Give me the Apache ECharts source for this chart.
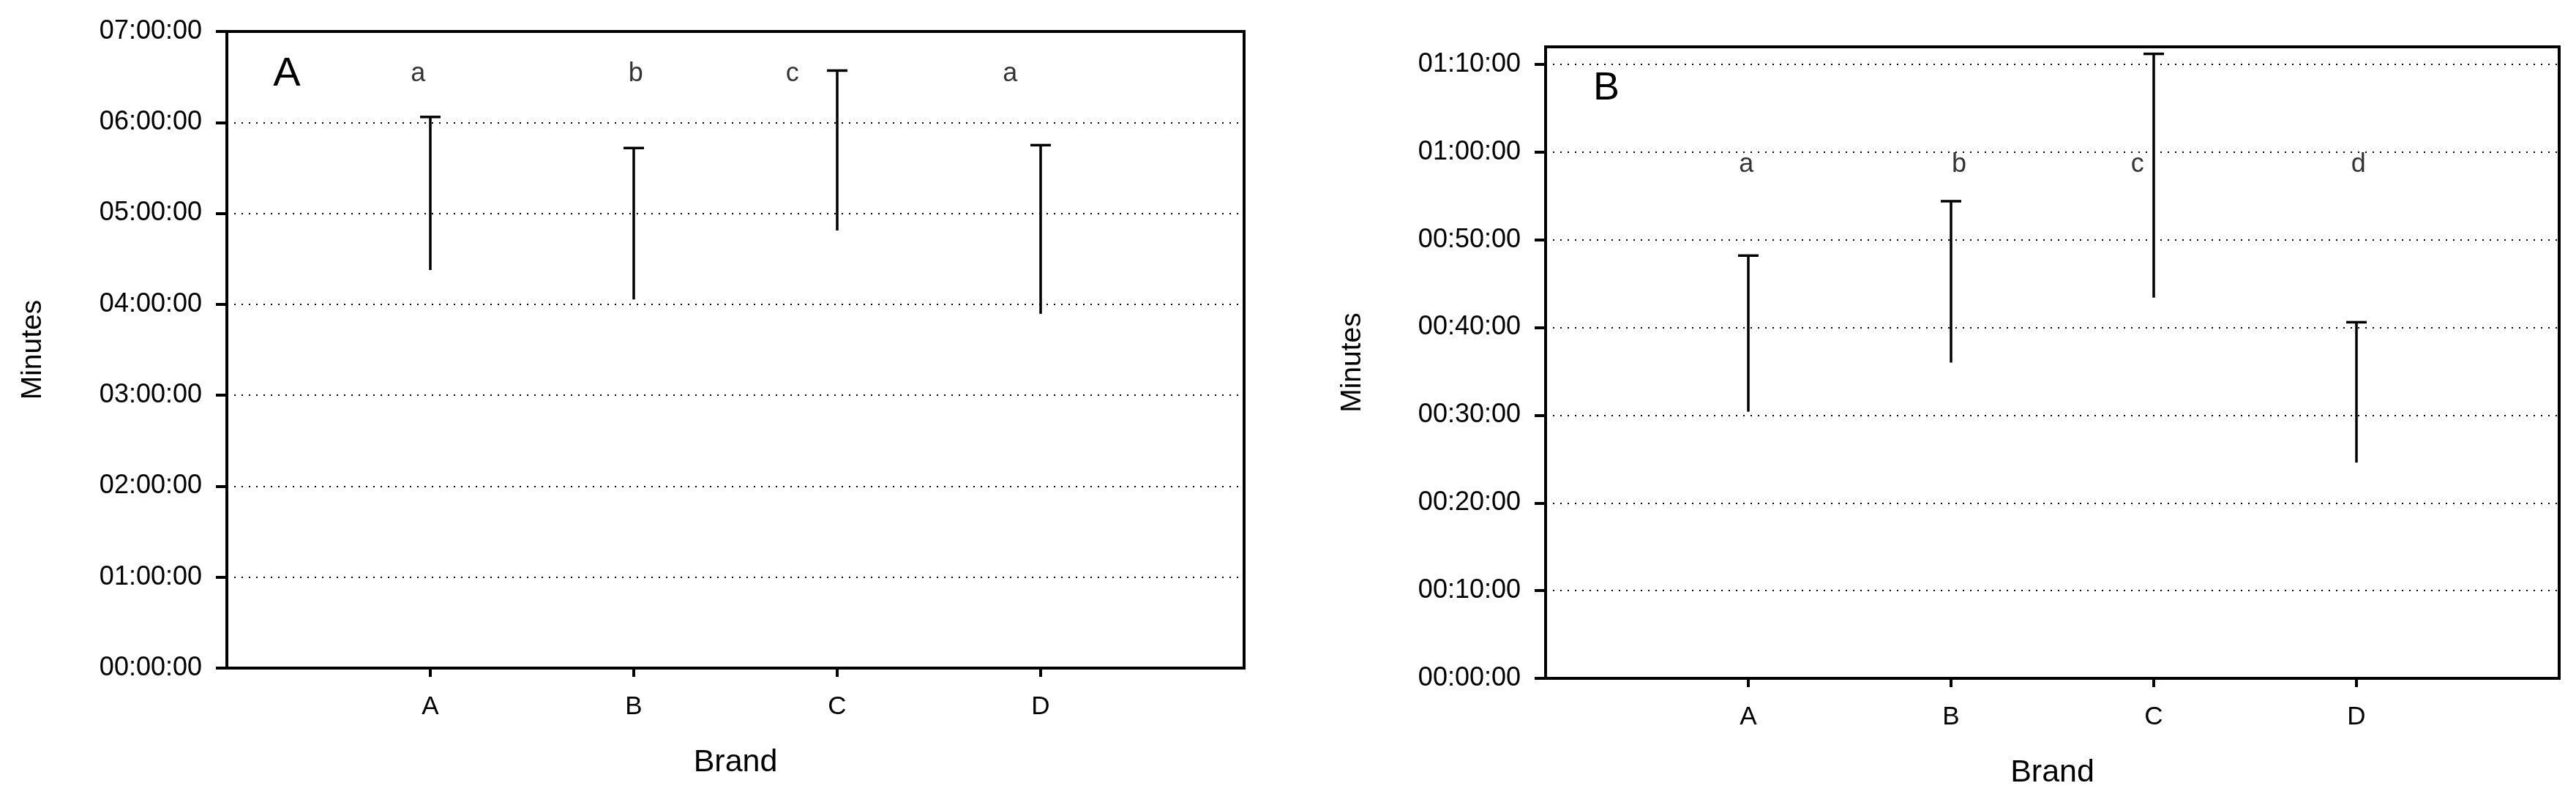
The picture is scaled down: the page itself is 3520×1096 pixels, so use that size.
<!DOCTYPE html>
<html>
<head>
<meta charset="utf-8">
<script src="https://cdn.jsdelivr.net/npm/echarts@6/dist/echarts.min.js"></script>
<style>
  html, body { margin: 0; padding: 0; background: #fff; }
  #chart { width: 3520px; height: 1096px; }
</style>
</head>
<body>
<div id="chart"></div>
<script>
// Brands on the x axis, placed at 1..4 on a 0..5 scale
const brands = ['A', 'B', 'C', 'D'];
const brandPos = [1, 2, 3, 4];

// Panel A, values in minutes (bar goes from low up to the capped high)
const lowA = [262.6, 243.2, 288.7, 233.7];
const highA = [363.6, 343.1, 394.2, 345.0];
const lettersA = ['a', 'b', 'c', 'a'];
const letterXA = [0.94, 2.01, 2.78, 3.85];
const letterYA = 392;
const ticksA = [0, 60, 120, 180, 240, 300, 360, 420];

// Panel B, values in minutes
const lowB = [30.4, 36.0, 43.4, 24.6];
const highB = [48.2, 54.4, 71.2, 40.6];
const lettersB = ['a', 'b', 'c', 'd'];
const letterXB = [0.99, 2.04, 2.92, 4.01];
const letterYB = 58.6;
const ticksB = [0, 10, 20, 30, 40, 50, 60, 70];

const FONT = "'Liberation Sans', Arial, sans-serif";

const pad = (n) => String(n).padStart(2, '0');
const hms = (min) => pad(Math.floor(min / 60)) + ':' + pad(Math.round(min % 60)) + ':00';

const chart = echarts.init(document.getElementById('chart'));

const errorBar = (params, api) => {
  const x = api.value(0);
  const lo = api.coord([x, api.value(1)]);
  const hi = api.coord([x, api.value(2)]);
  const st = { stroke: '#000', lineWidth: 3.5 };
  return {
    type: 'group',
    children: [
      { type: 'line', shape: { x1: lo[0], y1: lo[1], x2: hi[0], y2: hi[1] }, style: st },
      { type: 'line', shape: { x1: hi[0] - 14, y1: hi[1], x2: hi[0] + 14, y2: hi[1] }, style: st }
    ]
  };
};

const xAxisOf = (gridIndex, gap) => ({
  type: 'value', gridIndex, min: 0, max: 5, interval: 1,
  name: 'Brand', nameLocation: 'middle', nameGap: gap,
  nameTextStyle: { fontFamily: FONT, fontSize: 43, color: '#000' },
  axisLine: { lineStyle: { color: '#000', width: 4 } },
  axisTick: { length: 12, customValues: brandPos, lineStyle: { color: '#000', width: 4 } },
  axisLabel: {
    customValues: brandPos, margin: 36,
    fontFamily: FONT, fontSize: 35, color: '#000',
    formatter: (v) => brands[v - 1] || ''
  },
  splitLine: { show: false }
});

const yAxisOf = (gridIndex, max, ticks, interval, gap) => ({
  type: 'value', gridIndex, min: 0, max, interval,
  name: 'Minutes', nameLocation: 'middle', nameRotate: 90, nameGap: gap,
  nameTextStyle: { fontFamily: FONT, fontSize: 39, color: '#000' },
  axisLine: { lineStyle: { color: '#000', width: 4 } },
  axisTick: { length: 15, customValues: ticks, lineStyle: { color: '#000', width: 4 } },
  axisLabel: {
    customValues: ticks, margin: 34,
    fontFamily: FONT, fontSize: 36, color: '#000',
    formatter: hms
  },
  splitLine: { show: true, lineStyle: { color: '#000', width: 2, type: [2, 8] } }
});

const letterSeries = (idx, xs, y, letters) => ({
  type: 'scatter', xAxisIndex: idx, yAxisIndex: idx,
  symbolSize: 0, silent: true,
  data: xs.map((x, i) => ({ value: [x, y], name: letters[i] })),
  label: {
    show: true, position: 'inside', formatter: (p) => p.name,
    fontFamily: FONT, fontSize: 36, color: '#000'
  }
});

chart.setOption({
  animation: false,
  backgroundColor: '#fff',
  grid: [
    { left: 310, top: 43, width: 1390, height: 870, show: true, borderColor: '#000', borderWidth: 4 },
    { left: 2112, top: 64, width: 1385, height: 863, show: true, borderColor: '#000', borderWidth: 4 }
  ],
  xAxis: [xAxisOf(0, 108), xAxisOf(1, 108)],
  yAxis: [yAxisOf(0, 420, ticksA, 60, 245), yAxisOf(1, 72, ticksB, 2, 244)],
  graphic: [
    { type: 'text', x: 392, y: 102, style: { text: 'A', font: '56px ' + FONT, fill: '#000', textAlign: 'center', textVerticalAlign: 'middle' } },
    { type: 'text', x: 2195, y: 121, style: { text: 'B', font: '54px ' + FONT, fill: '#000', textAlign: 'center', textVerticalAlign: 'middle' } }
  ],
  series: [
    {
      type: 'custom', xAxisIndex: 0, yAxisIndex: 0, renderItem: errorBar,
      data: brandPos.map((x, i) => [x, lowA[i], highA[i]])
    },
    {
      type: 'custom', xAxisIndex: 1, yAxisIndex: 1, renderItem: errorBar,
      data: brandPos.map((x, i) => [x, lowB[i], highB[i]])
    },
    letterSeries(0, letterXA, letterYA, lettersA),
    letterSeries(1, letterXB, letterYB, lettersB)
  ]
});
</script>
</body>
</html>
